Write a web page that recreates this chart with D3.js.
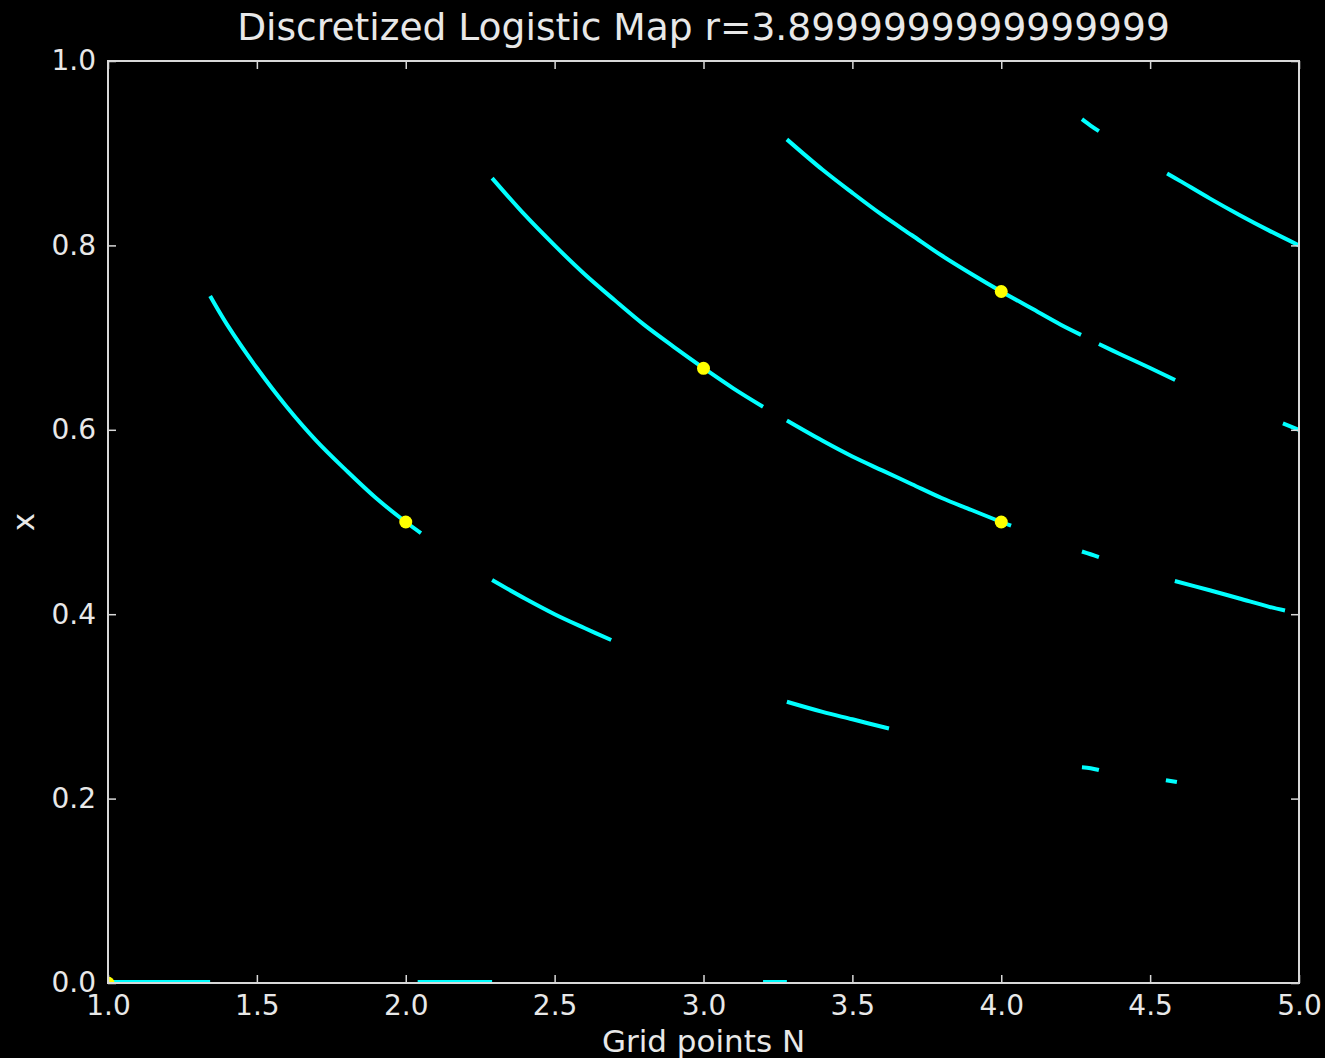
<!DOCTYPE html>
<html>
<head>
<meta charset="utf-8">
<script src="https://cdn.jsdelivr.net/npm/d3@7/dist/d3.min.js"></script>
<style>
  html, body { margin: 0; padding: 0; background: #000; }
  svg { display: block; }
  text { font-family: "DejaVu Sans", sans-serif; fill: #e8e8e8; }
</style>
</head>
<body>
<script>
// Orbit branches of the discretized logistic map, as (N, x) pairs.
const branch1 = [[1.343, 0.745], [1.40, 0.714], [1.50, 0.667], [1.60, 0.625], [1.70, 0.588],
                 [1.80, 0.556], [1.90, 0.526], [2.00, 0.500], [2.051, 0.488]];
const branch2 = [[2.29, 0.873], [2.40, 0.833], [2.50, 0.800], [2.60, 0.769], [2.70, 0.741],
                 [2.80, 0.714], [2.90, 0.690], [3.00, 0.667], [3.10, 0.645], [3.20, 0.625]];
const branch3 = [[2.29, 0.437], [2.40, 0.417], [2.50, 0.400], [2.60, 0.385], [2.69, 0.372]];
const branch4 = [[3.28, 0.915], [3.40, 0.882], [3.50, 0.857], [3.60, 0.833], [3.70, 0.811],
                 [3.80, 0.789], [3.90, 0.769], [4.00, 0.750], [4.10, 0.732], [4.20, 0.714], [4.268, 0.703]];
const branch5 = [[4.328, 0.693], [4.40, 0.682], [4.50, 0.667], [4.584, 0.654]];
const branch6 = [[3.28, 0.610], [3.40, 0.588], [3.50, 0.571], [3.60, 0.556], [3.70, 0.541],
                 [3.80, 0.526], [3.90, 0.513], [4.00, 0.500], [4.033, 0.496]];
const branch7 = [[3.28, 0.305], [3.40, 0.294], [3.50, 0.286], [3.623, 0.276]];
const branch8 = [[4.271, 0.937], [4.30, 0.930], [4.328, 0.924]];
const branch9 = [[4.271, 0.468], [4.30, 0.465], [4.328, 0.462]];
const branch10 = [[4.271, 0.234], [4.30, 0.233], [4.328, 0.231]];
const branch11 = [[4.557, 0.878], [4.60, 0.870], [4.70, 0.851], [4.80, 0.833], [4.90, 0.816], [5.00, 0.800]];
const branch12 = [[4.583, 0.436], [4.70, 0.426], [4.80, 0.417], [4.90, 0.408], [4.953, 0.404]];
const branch13 = [[4.553, 0.220], [4.59, 0.218]];
const branch14 = [[4.946, 0.607], [5.00, 0.600]];
const branches = [branch1, branch2, branch3, branch4, branch5, branch6, branch7, branch8,
                  branch9, branch10, branch11, branch12, branch13, branch14];

// Stretches of N where the orbit collapses to x = 0.
const zero1 = [[1.00, 0.0], [1.343, 0.0]];
const zero2 = [[2.04, 0.0], [2.29, 0.0]];
const zero3 = [[3.20, 0.0], [3.28, 0.0]];
const zeroRuns = [zero1, zero2, zero3];

// Fixed points marked in yellow.
const fixedN = [1, 2, 3, 4, 4];
const fixedX = [0, 0.5, 0.6667, 0.75, 0.5];

const xTicks = [1.0, 1.5, 2.0, 2.5, 3.0, 3.5, 4.0, 4.5, 5.0];
const yTicks = [0.0, 0.2, 0.4, 0.6, 0.8, 1.0];
const titleText = "Discretized Logistic Map r=3.8999999999999999";

const W = 1325, H = 1058;
const m = { left: 108, right: 26, top: 61, bottom: 75 };
const pw = W - m.left - m.right, ph = H - m.top - m.bottom;

const svg = d3.select("body").append("svg").attr("width", W).attr("height", H);
svg.append("rect").attr("width", W).attr("height", H).attr("fill", "#000");

const x = d3.scaleLinear().domain([1, 5]).range([0, pw]);
const y = d3.scaleLinear().domain([0, 1]).range([ph, 0]);

svg.append("defs").append("clipPath").attr("id", "plot-clip")
  .append("rect").attr("width", pw).attr("height", ph);

const g = svg.append("g").attr("transform", `translate(${m.left},${m.top})`);
const plot = g.append("g").attr("clip-path", "url(#plot-clip)");

const line = d3.line().x(d => x(d[0])).y(d => y(d[1])).curve(d3.curveCatmullRom);
plot.selectAll("path.branch").data(branches).join("path")
  .attr("class", "branch")
  .attr("d", line)
  .attr("fill", "none")
  .attr("stroke", "#00ffff")
  .attr("stroke-width", 4)
  .attr("stroke-linecap", "butt");

// Runs on the x = 0 axis sit half outside the clip, so they get a wider stroke.
plot.selectAll("path.zero").data(zeroRuns).join("path")
  .attr("class", "zero")
  .attr("d", line)
  .attr("fill", "none")
  .attr("stroke", "#00ffff")
  .attr("stroke-width", 6);

plot.selectAll("circle.fixed").data(fixedN.map((n, i) => [n, fixedX[i]])).join("circle")
  .attr("class", "fixed")
  .attr("cx", d => x(d[0]))
  .attr("cy", d => y(d[1]))
  .attr("r", 6.5)
  .attr("fill", "#ffff00");

// Axes with inward ticks on all four sides.
const tickLen = 8;
const styleAxis = sel => {
  sel.select(".domain").remove();
  sel.selectAll(".tick line").attr("stroke", "#d8d8d8").attr("stroke-width", 1.5);
  sel.selectAll(".tick text").style("font-size", "28px").attr("fill", "#e8e8e8");
};
g.append("g").attr("transform", `translate(0,${ph})`)
  .call(d3.axisBottom(x).tickValues(xTicks).tickFormat(d3.format(".1f")).tickSizeInner(-tickLen).tickPadding(12))
  .call(styleAxis);
g.append("g")
  .call(d3.axisTop(x).tickValues(xTicks).tickFormat("").tickSizeInner(-tickLen))
  .call(styleAxis);
g.append("g")
  .call(d3.axisLeft(y).tickValues(yTicks).tickFormat(d3.format(".1f")).tickSizeInner(-tickLen).tickPadding(12))
  .call(styleAxis);
g.append("g").attr("transform", `translate(${pw},0)`)
  .call(d3.axisRight(y).tickValues(yTicks).tickFormat("").tickSizeInner(-tickLen))
  .call(styleAxis);

g.append("rect").attr("width", pw).attr("height", ph)
  .attr("fill", "none").attr("stroke", "#d8d8d8").attr("stroke-width", 2);

svg.append("text").attr("x", m.left + pw / 2).attr("y", 40)
  .attr("text-anchor", "middle").style("font-size", "37.6px").text(titleText);
svg.append("text").attr("x", m.left + pw / 2).attr("y", 1052)
  .attr("text-anchor", "middle").style("font-size", "31px").text("Grid points N");
svg.append("text").attr("transform", `translate(34,${m.top + ph / 2}) rotate(-90)`)
  .attr("text-anchor", "middle").style("font-size", "31px").text("x");
</script>
</body>
</html>
